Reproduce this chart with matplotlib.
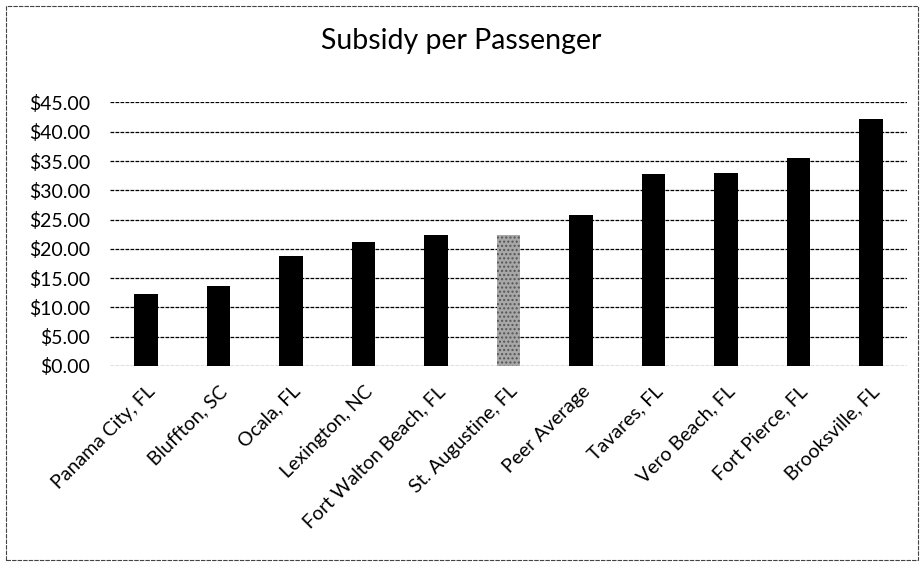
import matplotlib
matplotlib.use("Agg")
import matplotlib.pyplot as plt
from matplotlib.patches import Rectangle

plt.rcParams['font.family'] = ['Lato', 'DejaVu Sans']

cities = ['Panama City, FL', 'Bluffton, SC', 'Ocala, FL', 'Lexington, NC',
          'Fort Walton Beach, FL', 'St. Augustine, FL', 'Peer Average',
          'Tavares, FL', 'Vero Beach, FL', 'Fort Pierce, FL', 'Brooksville, FL']
subsidy = [12.3, 13.7, 18.8, 21.1, 22.3, 22.4, 25.7, 32.8, 33.0, 35.5, 42.2]
highlight = 'St. Augustine, FL'
yticks = [0, 5, 10, 15, 20, 25, 30, 35, 40, 45]

fig = plt.figure(figsize=(9.23, 5.63), dpi=100)
ax = fig.add_axes([0.119, 0.35, 0.864, 0.468])

colors = ['#a8a8a8' if c == highlight else 'black' for c in cities]
bars = ax.bar(range(len(cities)), subsidy, width=0.32, color=colors, zorder=3)
for b, c in zip(bars, cities):
    if c == highlight:
        b.set_hatch('....')
        b.set_edgecolor('#555555')
        b.set_linewidth(0)

ax.set_ylim(0, 45)
ax.set_xlim(-0.5, len(cities) - 0.5)
ax.set_yticks(yticks)
ax.set_yticklabels(['${:.2f}'.format(v) for v in yticks], fontsize=14)
ax.set_xticks(range(len(cities)))
ax.set_xticklabels(cities, rotation=45, ha='right', rotation_mode='anchor', fontsize=14)
ax.tick_params(axis='y', length=0, pad=14)
ax.tick_params(axis='x', length=0, pad=12)
ax.yaxis.grid(True, color='black', linewidth=0.9, linestyle=(0, (3, 1)), zorder=0)
for s in ax.spines.values():
    s.set_visible(False)

fig.text(0.5, 0.928, 'Subsidy per Passenger', ha='center', va='center', fontsize=20.5)

# chart border
fig.patches.append(Rectangle((0.007, 0.005), 0.988, 0.985, transform=fig.transFigure,
                             fill=False, edgecolor='#444444', linewidth=0.8,
                             linestyle=(0, (4, 1))))

fig.savefig('out.png', dpi=100)
